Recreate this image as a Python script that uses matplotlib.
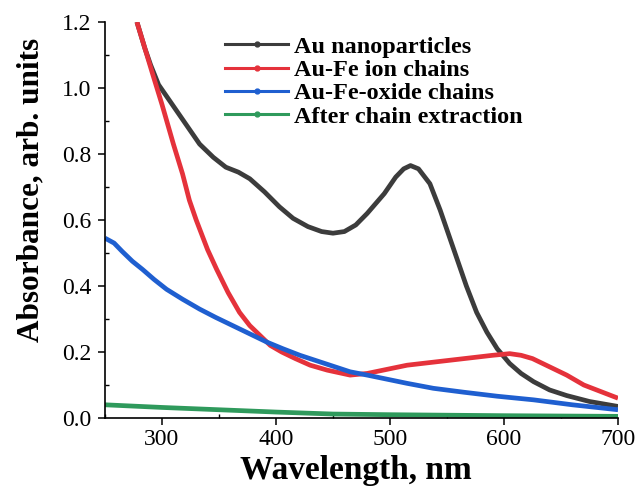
import numpy as np
import matplotlib.pyplot as plt
from matplotlib.lines import Line2D
from matplotlib.ticker import MultipleLocator

# Valeurs (longueur d'onde en nm, absorbance)
wl_au = [278, 285, 290, 297, 305, 312, 322, 333, 345, 356, 367, 377, 390, 403, 415, 428, 440, 450, 460, 470, 480, 495, 505, 512, 518, 525, 535, 544, 552, 559, 567, 576, 585, 594, 605, 615, 626, 640, 655, 675, 700]
abs_au = [1.2, 1.12, 1.07, 1.01, 0.97, 0.935, 0.885, 0.83, 0.79, 0.76, 0.745, 0.725, 0.685, 0.64, 0.605, 0.58, 0.565, 0.56, 0.565, 0.585, 0.62, 0.68, 0.73, 0.755, 0.765, 0.755, 0.71, 0.63, 0.55, 0.48, 0.40, 0.32, 0.26, 0.21, 0.165, 0.135, 0.11, 0.085, 0.068, 0.05, 0.035]

wl_fe = [278, 285, 292, 300, 310, 318, 324, 330, 340, 348, 358, 368, 377, 386, 395, 405, 417, 430, 445, 465, 480, 494, 515, 540, 565, 590, 605, 615, 625, 640, 655, 670, 685, 700]
abs_fe = [1.2, 1.12, 1.04, 0.95, 0.83, 0.74, 0.66, 0.60, 0.51, 0.45, 0.38, 0.32, 0.28, 0.25, 0.22, 0.20, 0.18, 0.16, 0.145, 0.13, 0.135, 0.145, 0.16, 0.17, 0.18, 0.19, 0.195, 0.19, 0.18, 0.155, 0.13, 0.10, 0.08, 0.06]

wl_ox = [250, 258, 265, 274, 283, 293, 304, 318, 333, 347, 362, 377, 392, 406, 421, 443, 465, 480, 494, 515, 538, 565, 594, 626, 660, 700]
abs_ox = [0.545, 0.53, 0.505, 0.475, 0.45, 0.42, 0.39, 0.36, 0.33, 0.305, 0.28, 0.255, 0.23, 0.21, 0.19, 0.165, 0.14, 0.13, 0.12, 0.105, 0.09, 0.078, 0.066, 0.055, 0.04, 0.025]

wl_ext = [250, 300, 350, 400, 450, 500, 600, 700]
abs_ext = [0.04, 0.032, 0.025, 0.018, 0.012, 0.01, 0.007, 0.005]

labels = ["Au nanoparticles", "Au-Fe ion chains", "Au-Fe-oxide chains", "After chain extraction"]
couleurs = ["#3c3c3c", "#e5323b", "#1f5fd0", "#2f9a5c"]

plt.rcParams['font.family'] = ['Liberation Serif', 'DejaVu Serif']

fig = plt.figure(figsize=(6.41, 4.93), dpi=100)
ax = fig.add_axes([105 / 641, 1 - 418 / 493, 513 / 641, 396 / 493])

series = [(wl_au, abs_au), (wl_fe, abs_fe), (wl_ox, abs_ox), (wl_ext, abs_ext)]
for (x, y), c in zip(series, couleurs):
    ax.plot(x, y, color=c, lw=3.4, solid_capstyle='butt', clip_on=True)

ax.set_xlim(250, 700)
ax.set_ylim(0, 1.2)
ax.set_xticks([300, 400, 500, 600, 700])
ax.xaxis.set_minor_locator(MultipleLocator(50))
ax.yaxis.set_major_locator(MultipleLocator(0.2))
ax.yaxis.set_minor_locator(MultipleLocator(0.1))
ax.yaxis.set_major_formatter(plt.FormatStrFormatter('%.1f'))

for s in ['top', 'right']:
    ax.spines[s].set_visible(False)
ax.spines['left'].set_linewidth(1.2)
ax.spines['bottom'].set_linewidth(1.2)
ax.tick_params(which='major', direction='out', length=5, width=1.1, labelsize=17)
ax.tick_params(axis='y', which='major', pad=5)
ax.tick_params(axis='x', which='major', pad=3)
ax.tick_params(which='minor', direction='in', length=3, width=1)

ax.set_xlabel('Wavelength, nm', fontsize=24, fontweight='bold', va='top')
ax.xaxis.set_label_coords(0.49, -0.093)
ax.set_ylabel('Absorbance, arb. units', fontsize=22.5, fontweight='bold', va='center')
ax.yaxis.set_label_coords(-0.145, 0.575)

handles = [Line2D([0], [0], color=c, lw=2.2, marker='o', markersize=3.5) for c in couleurs]
ax.legend(handles, labels, loc='upper left', bbox_to_anchor=(0.234, 0.965),
          frameon=False, prop={'weight': 'bold', 'size': 17.5},
          handlelength=2.6, handletextpad=0.25, labelspacing=0.05,
          borderpad=0, borderaxespad=0)

fig.savefig('out.png', dpi=100)
